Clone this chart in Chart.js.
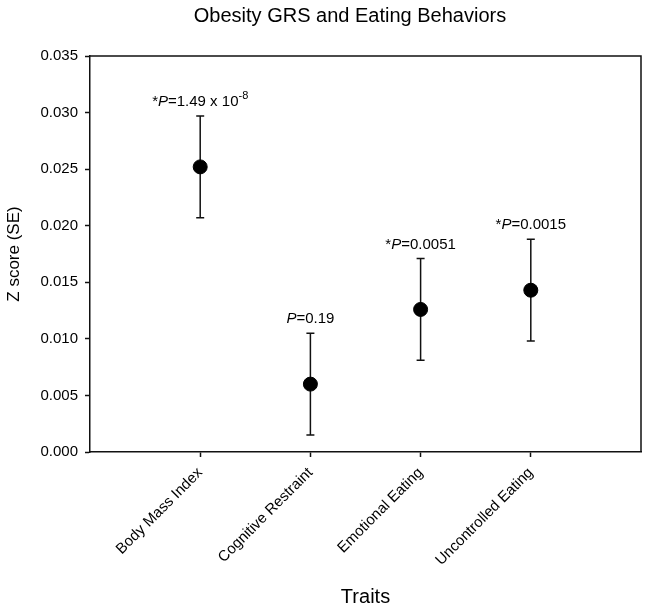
<!DOCTYPE html>
<html>
<head>
<meta charset="utf-8">
<script src="https://cdn.jsdelivr.net/npm/chart.js@4"></script>
<style>
  html, body { margin: 0; padding: 0; background: #fff; }
  #wrap { width: 649px; height: 611px; }
</style>
</head>
<body>
<div id="wrap"><canvas id="chart" width="649" height="611"></canvas></div>
<script>
const traits = ["Body Mass Index", "Cognitive Restraint", "Emotional Eating", "Uncontrolled Eating"];
const zScores = [0.0252, 0.0060, 0.0126, 0.0143];
const stdErr = [0.0045, 0.0045, 0.0045, 0.0045];
const pStar = [true, false, true, true];
const pText = ["=1.49 x 10", "=0.19", "=0.0051", "=0.0015"];
const pExp = ["-8", "", "", ""];
const yTicks = [0, 0.005, 0.01, 0.015, 0.02, 0.025, 0.03, 0.035];

const FONT = "'Liberation Sans', Arial, sans-serif";

// error bars + p-value labels + top/right frame + title
const extras = {
  id: "extras",
  beforeDatasetsDraw(chart) {
    const ctx = chart.ctx, xs = chart.scales.x, ys = chart.scales.y;
    ctx.save();
    ctx.strokeStyle = "#111";
    ctx.lineWidth = 1.5;
    zScores.forEach((v, i) => {
      const px = xs.getPixelForValue(i + 1);
      const hi = ys.getPixelForValue(v + stdErr[i]);
      const lo = ys.getPixelForValue(v - stdErr[i]);
      ctx.beginPath();
      ctx.moveTo(px, hi); ctx.lineTo(px, lo);
      ctx.moveTo(px - 4, hi); ctx.lineTo(px + 4, hi);
      ctx.moveTo(px - 4, lo); ctx.lineTo(px + 4, lo);
      ctx.stroke();
    });
    ctx.restore();
  },
  afterDraw(chart) {
    const ctx = chart.ctx, xs = chart.scales.x, ys = chart.scales.y;
    const a = chart.chartArea;
    ctx.save();
    ctx.strokeStyle = "#111";
    ctx.lineWidth = 1.5;
    ctx.beginPath();
    ctx.moveTo(a.left, a.top); ctx.lineTo(a.right, a.top); ctx.lineTo(a.right, a.bottom);
    ctx.stroke();

    ctx.fillStyle = "#000";
    ctx.textBaseline = "alphabetic";
    ctx.textAlign = "left";
    const normal = "15px " + FONT, italic = "italic 15px " + FONT, small = "11px " + FONT;
    zScores.forEach((v, i) => {
      const px = xs.getPixelForValue(i + 1);
      const base = ys.getPixelForValue(v + stdErr[i]) - 10;
      const parts = [];
      if (pStar[i]) parts.push(["*", normal, 0]);
      parts.push(["P", italic, 0]);
      parts.push([pText[i], normal, 0]);
      if (pExp[i]) parts.push([pExp[i], small, -7]);
      let w = 0;
      parts.forEach(p => { ctx.font = p[1]; w += ctx.measureText(p[0]).width; });
      let x = px - w / 2;
      parts.forEach(p => {
        ctx.font = p[1];
        ctx.fillText(p[0], x, base + p[2]);
        x += ctx.measureText(p[0]).width;
      });
    });

    ctx.font = "20px " + FONT;
    ctx.textAlign = "center";
    ctx.textBaseline = "middle";
    ctx.fillText("Obesity GRS and Eating Behaviors", 350, 16);
    ctx.restore();
  }
};

new Chart(document.getElementById("chart"), {
  type: "scatter",
  data: {
    datasets: [{
      data: traits.map((t, i) => ({ x: i + 1, y: zScores[i] })),
      backgroundColor: "#000",
      borderColor: "#000",
      pointRadius: 7,
      pointHoverRadius: 7
    }]
  },
  options: {
    responsive: false,
    animation: false,
    events: [],
    layout: { padding: { left: 0, top: 56, right: 8, bottom: 0 } },
    plugins: { legend: { display: false }, tooltip: { enabled: false } },
    scales: {
      x: {
        type: "linear",
        min: 0,
        max: 5,
        afterBuildTicks: s => { s.ticks = traits.map((t, i) => ({ value: i + 1 })); },
        afterFit: s => { s.height = 159; },
        grid: { drawOnChartArea: false, drawTicks: true, tickLength: 5, tickColor: "#111", tickWidth: 1.5 },
        border: { display: true, color: "#111", width: 1.5 },
        ticks: {
          autoSkip: false,
          minRotation: 45,
          maxRotation: 45,
          padding: 7,
          color: "#000",
          font: { family: FONT, size: 15 },
          callback: v => traits[v - 1]
        },
        title: {
          display: true,
          text: "Traits",
          color: "#000",
          font: { family: FONT, size: 20 },
          padding: { top: 0, bottom: 2 }
        }
      },
      y: {
        min: 0,
        max: 0.035,
        afterBuildTicks: s => { s.ticks = yTicks.map(v => ({ value: v })); },
        afterFit: s => { s.width = 90; },
        grid: { drawOnChartArea: false, drawTicks: true, tickLength: 5, tickColor: "#111", tickWidth: 1.5 },
        border: { display: true, color: "#111", width: 1.5 },
        ticks: {
          padding: 7,
          color: "#000",
          font: { family: FONT, size: 15 },
          callback: v => v.toFixed(3)
        },
        title: {
          display: true,
          text: "Z score (SE)",
          color: "#000",
          font: { family: FONT, size: 17 },
          padding: { top: 4, bottom: 0 }
        }
      }
    }
  },
  plugins: [extras]
});
</script>
</body>
</html>
